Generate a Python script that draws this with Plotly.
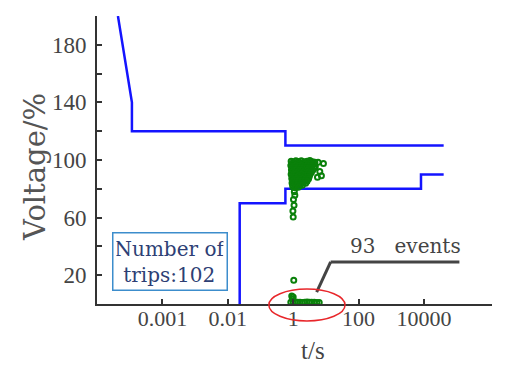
import plotly.graph_objects as go

# ---- data ----
upper_t = [2.09e-4, 3.42e-4, 3.42e-4, 0.076, 0.076, 20]
upper_v = [200, 140, 120, 120, 110, 110]
lower_t = [0.0152, 0.0152, 0.076, 0.076, 9.0, 9.0, 20]
lower_v = [0, 70, 70, 80, 80, 90, 90]

trip_t = [
    0.093, 0.101, 0.110, 0.121, 0.133, 0.148, 0.163, 0.180, 0.198, 0.215,
    0.096, 0.105, 0.115, 0.127, 0.140, 0.155, 0.170, 0.188, 0.207,
    0.092, 0.100, 0.109, 0.120, 0.134, 0.147, 0.162, 0.178, 0.196, 0.218,
    0.097, 0.106, 0.116, 0.128, 0.141, 0.157, 0.174, 0.190, 0.210,
    0.094, 0.102, 0.112, 0.123, 0.136, 0.150, 0.166, 0.183, 0.200,
    0.096, 0.105, 0.116, 0.128, 0.142, 0.157, 0.172, 0.190,
    0.093, 0.100, 0.110, 0.122, 0.135, 0.149, 0.165, 0.180,
    0.097, 0.107, 0.118, 0.131, 0.145, 0.160, 0.176,
    0.095, 0.104, 0.114, 0.126, 0.140, 0.155, 0.172,
    0.098, 0.108, 0.120, 0.134, 0.148, 0.163,
    0.096, 0.105, 0.116, 0.128, 0.142, 0.155,
    0.098, 0.106, 0.115, 0.126, 0.138,
    0.099, 0.108, 0.120,
    0.104, 0.106, 0.101, 0.103, 0.099, 0.100,
    0.240, 0.290, 0.255, 0.235, 0.270,
    0.102,
    0.095, 0.100, 0.097,
    0.092, 0.100, 0.108, 0.117, 0.127, 0.138, 0.150, 0.163, 0.177, 0.192,
    0.210, 0.230, 0.250,
]
trip_v = [
    99.2, 98.6, 99.4, 98.9, 99.5, 98.7, 99.1, 99.6, 98.8, 98.4,
    97.6, 97.3, 97.8, 97.4, 97.7, 97.2, 97.5, 97.6, 97.3,
    96.1, 95.6, 96.4, 95.9, 96.3, 95.7, 96.2, 95.8, 96.0, 95.5,
    94.6, 94.3, 94.7, 94.4, 94.5, 94.2, 94.6, 94.4, 94.5,
    93.2, 92.8, 93.4, 92.9, 93.1, 92.7, 93.3, 92.6, 93.0,
    91.6, 91.3, 91.7, 91.4, 91.5, 91.2, 91.6, 91.4,
    90.1, 89.7, 90.3, 89.8, 90.2, 89.6, 90.0, 89.9,
    88.6, 88.3, 88.7, 88.4, 88.5, 88.2, 88.6,
    87.2, 86.8, 87.1, 86.7, 87.3, 86.9, 87.0,
    85.6, 85.3, 85.7, 85.4, 85.5, 85.2,
    84.1, 83.8, 84.2, 83.7, 84.0, 83.9,
    82.6, 82.3, 82.7, 82.4, 82.5,
    81.2, 80.8, 81.0,
    78.0, 75.5, 72.5, 68.5, 64.5, 60.5,
    98.5, 97.5, 92.0, 88.0, 89.0,
    16.5,
    5.5, 4.8, 3.5,
    1.3, 1.1, 1.4, 1.2, 1.3, 1.1, 1.2, 1.4, 1.2, 1.3,
    1.2, 1.1, 1.0,
]

x_tickvals = [1e-3, 1e-2, 1e-1, 1, 10]
x_ticktext = ["0.001", "0.01", "1", "100", "10000"]
y_tickvals = [20, 40, 60, 80, 100, 120, 140, 160, 180]
y_ticktext = ["20", "", "60", "", "100", "", "140", "", "180"]

BLUE = "#1414ff"
GREEN = "#0a800a"
AX = "#333333"
SERIF = "DejaVu Serif"

fig = go.Figure()
fig.add_trace(go.Scatter(x=upper_t, y=upper_v, mode="lines",
                         line=dict(color=BLUE, width=2.5), showlegend=False))
fig.add_trace(go.Scatter(x=lower_t, y=lower_v, mode="lines",
                         line=dict(color=BLUE, width=2.5), showlegend=False))
fig.add_trace(go.Scatter(x=trip_t, y=trip_v, mode="markers", cliponaxis=False,
                         marker=dict(symbol="circle-open", size=5, color=GREEN,
                                     line=dict(color=GREEN, width=2)),
                         showlegend=False))

fig.update_layout(
    width=515, height=373,
    margin=dict(l=97, r=23, t=16, b=69),
    paper_bgcolor="white", plot_bgcolor="white",
    xaxis=dict(type="log", range=[-4, 2.04], showgrid=False, zeroline=False,
               automargin=False,
               showline=True, linecolor=AX, linewidth=2,
               ticks="inside", ticklen=5, tickcolor=AX, tickwidth=1.5,
               tickmode="array", tickvals=x_tickvals, ticktext=x_ticktext,
               tickfont=dict(family="Liberation Serif", size=22, color="#444"),
               ticklabelstandoff=-6),
    yaxis=dict(range=[0, 200], showgrid=False, zeroline=False,
               automargin=False,
               showline=True, linecolor=AX, linewidth=2,
               ticks="inside", ticklen=5, tickcolor=AX, tickwidth=1.5,
               tickmode="array", tickvals=y_tickvals, ticktext=y_ticktext,
               tickfont=dict(family="Liberation Serif", size=23, color="#444"),
               ticklabelstandoff=4),
)

# callout line and ellipse
fig.add_shape(type="line", xref="x", yref="y", x0=0.2286, y0=8.3, x1=0.374, y1=29.2,
              line=dict(color="#444", width=3))
fig.add_shape(type="line", xref="x", yref="y", x0=0.374, y0=29.2, x1=34.8, y1=29.2,
              line=dict(color="#444", width=3))
fig.add_shape(type="circle", xref="paper", yref="paper", x0=0.435, x1=0.628,
              y0=-0.059, y1=0.052, line=dict(color="#e8262a", width=1.5))

ann = dict(xref="paper", yref="paper", showarrow=False, xanchor="center", yanchor="middle")
fig.add_annotation(**ann, x=0.782, y=0.201, text="93\u00a0\u00a0\u00a0events",
                   font=dict(family=SERIF, size=20, color="#444"))
fig.add_annotation(**ann, x=0.185, y=0.146,
                   text="Number of<br>trips:102", align="center",
                   width=107, height=50,
                   font=dict(family=SERIF, size=20, color="#2e3f75"),
                   bordercolor="#3c8dcc", borderwidth=1.5, borderpad=3, bgcolor="white")
fig.add_annotation(**ann, x=-0.157, y=0.476, textangle=-90, text="Voltage/%",
                   font=dict(family=SERIF, size=29, color="#555"))
fig.add_annotation(**ann, x=0.547, y=-0.163, text="t/s",
                   font=dict(family="Liberation Serif", size=25, color="#444"))

fig.write_html("out.html", config={"displayModeBar": False},
               post_script="document.body.style.margin='0px';")
